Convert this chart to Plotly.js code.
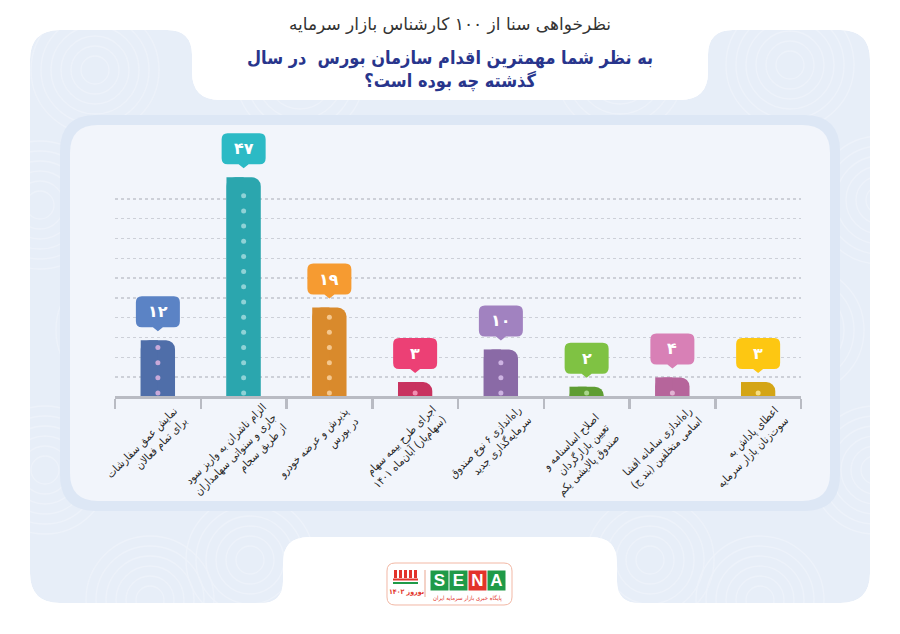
<!DOCTYPE html>
<html>
<head>
<meta charset="utf-8">
<script src="https://cdn.plot.ly/plotly-3.0.1.min.js"></script>
<style>
  html, body { margin: 0; padding: 0; background: #ffffff; }
  #chart { width: 900px; height: 634px; }
</style>
</head>
<body>
<div id="chart"></div>
<script>
// ---------------- data ----------------
const labelLines = [
  ["نمایش عمق سفارشات", "برای تمام فعالان"],
  ["الزام ناشران به واریز سود", "جاری و سنواتی سهامداران", "از طریق سجام"],
  ["پذیرش و عرضه خودرو", "در بورس"],
  ["اجرای طرح بیمه سهام", "(سهام‌یار) آبان‌ماه ۱۴۰۱"],
  ["راه‌اندازی ۶ نوع صندوق", "سرمایه‌گذاری جدید"],
  ["اصلاح اساسنامه و", "تعیین بازارگردان", "صندوق پالایشی یکم"],
  ["راه‌اندازی سامانه افشا", "اسامی متخلفین (بند ج)"],
  ["اعطای پاداش به", "سوت‌زنان بازار سرمایه"]
];
const values = [12, 47, 19, 3, 10, 2, 4, 3];
const barColors    = ["#4f6ea9", "#2ba6ae", "#d98a2c", "#c8325f", "#8a6aa6", "#5f9d33", "#b6659b", "#d4a516"];
const bubbleColors = ["#5b83c5", "#2cbac5", "#f69b31", "#ec4075", "#a182c0", "#7fc243", "#d880b6", "#fdc712"];
const dotColors    = ["#c9a9d9", "#8fd2d6", "#f4c78e", "#f28fb2", "#cdb3e2", "#a9d68c", "#e2b3d3", "#f6de82"];
const titleLine1 = "نظرخواهی سنا از ۱۰۰ کارشناس بازار سرمایه";
const titleLine2 = "به نظر شما مهمترین اقدام سازمان بورس  در سال";
const titleLine3 = "گذشته چه بوده است؟";

// ---------------- helpers ----------------
const RLM = "\u200F";
const categories = labelLines.map(ls => ls.join(" "));
const labelTexts = labelLines.map(ls => ls.map(l => RLM + l + RLM).join("<br>"));
const toFa = n => String(n).replace(/\d/g, d => "۰۱۲۳۴۵۶۷۸۹"[d]);

const W = 900, H = 634, ML = 115, MR = 99, MT = 126, MB = 238;
const PW = W - ML - MR, PH = H - MT - MB;
const px2x = px => ((px - ML) / PW).toFixed(5);
const py2y = py => ((H - MB - py) / PH).toFixed(5);

function roundPoly(pts) {
  let d = "";
  const n = pts.length;
  for (let i = 0; i < n; i++) {
    const p = pts[(i - 1 + n) % n], v = pts[i], q = pts[(i + 1) % n];
    const r = v[2];
    const l1 = Math.hypot(p[0] - v[0], p[1] - v[1]);
    const l2 = Math.hypot(q[0] - v[0], q[1] - v[1]);
    const ax = v[0] + (p[0] - v[0]) * r / l1, ay = v[1] + (p[1] - v[1]) * r / l1;
    const bx = v[0] + (q[0] - v[0]) * r / l2, by = v[1] + (q[1] - v[1]) * r / l2;
    d += (i === 0 ? "M" : " L") + px2x(ax) + "," + py2y(ay);
    d += " Q" + px2x(v[0]) + "," + py2y(v[1]) + " " + px2x(bx) + "," + py2y(by);
  }
  return d + " Z";
}
function roundRect(x0, y0, x1, y1, r) {
  return roundPoly([[x0, y0, r], [x1, y0, r], [x1, y1, r], [x0, y1, r]]);
}
function paperShape(path, fill, line) {
  return { type: "path", xref: "paper", yref: "paper", path: path, fillcolor: fill,
           line: line || { width: 0 }, layer: "below" };
}
function rectShape(x0, y0, x1, y1, fill) {
  return { type: "rect", xref: "paper", yref: "paper", x0: px2x(x0), x1: px2x(x1),
           y0: py2y(y1), y1: py2y(y0), fillcolor: fill, line: { width: 0 }, layer: "above" };
}
function paperText(px, py, text, font, extra) {
  return Object.assign({ xref: "paper", yref: "paper", x: px2x(px), y: py2y(py),
    xanchor: "center", yanchor: "middle", showarrow: false, text: text, font: font }, extra || {});
}

// ---------------- background ----------------
const shapes = [];
const panelPts = [
  [30, 30, 30], [192, 30, 25], [192, 100, 28], [708, 100, 28], [708, 30, 25],
  [870, 30, 30], [870, 603, 30], [617, 603, 22], [617, 537, 26], [283, 537, 26],
  [283, 603, 22], [30, 603, 30]
];
shapes.push(paperShape(roundPoly(panelPts), "#e7eef8"));
// faint decorative arc pattern inside the outer panel
const arcCentres = [[95, 70], [40, 205], [120, 330], [45, 470], [150, 600], [250, 560],
                    [790, 65], [880, 200], [800, 330], [875, 470], [760, 600], [650, 560],
                    [300, 75], [620, 70]];
arcCentres.forEach(c => {
  for (let r = 14; r <= 64; r += 10) {
    shapes.push({ type: "circle", xref: "paper", yref: "paper",
      x0: px2x(c[0] - r), x1: px2x(c[0] + r), y0: py2y(c[1] + r), y1: py2y(c[1] - r),
      fillcolor: "rgba(0,0,0,0)", line: { color: "#edf2fa", width: 1.3 }, layer: "below" });
  }
});
// white mask outside the outer panel
shapes.push(paperShape("M" + px2x(-5) + "," + py2y(-5) + " L" + px2x(905) + "," + py2y(-5) +
  " L" + px2x(905) + "," + py2y(640) + " L" + px2x(-5) + "," + py2y(640) + " Z " +
  roundPoly(panelPts.slice().reverse()), "#ffffff"));
shapes.push(paperShape(roundRect(60, 115, 840, 511, 36), "#dde7f5"));
shapes.push(paperShape(roundRect(70, 125, 830, 501, 28), "#f2f5fb"));

// ---------------- speech bubbles ----------------
const bubblePath = "M-16,13 L-5,13 L0,9 L5,13 L16,13 Q22,13 22,19 L22,38 Q22,44 16,44 " +
                   "L-16,44 Q-22,44 -22,38 L-22,19 Q-22,13 -16,13 Z";
values.forEach((v, i) => {
  shapes.push({ type: "path", xref: "x", yref: "y", xsizemode: "pixel", ysizemode: "pixel",
                xanchor: i, yanchor: v, path: bubblePath, fillcolor: bubbleColors[i],
                line: { width: 0 }, layer: "above" });
});

// ---------------- logo ----------------
shapes.push(Object.assign(paperShape(roundRect(387, 563, 512, 605, 8), "#ffffff",
  { color: "#f2b8a5", width: 1 }), { layer: "above" }));
shapes.push({ type: "line", xref: "paper", yref: "paper", x0: px2x(425), x1: px2x(425),
  y0: py2y(597), y1: py2y(570), line: { color: "#e9a58f", width: 1 }, layer: "above" });
for (let k = 0; k < 5; k++) shapes.push(rectShape(394 + 5 * k, 570, 397 + 5 * k, 578, "#e2332a"));
shapes.push(rectShape(393, 578.5, 418, 580.5, "#e2332a"));
shapes.push(rectShape(393, 582, 418, 584, "#1f9a48"));

const annotations = [];
values.forEach((v, i) => {
  annotations.push({ x: i, y: v, xref: "x", yref: "y", yshift: 28.5, showarrow: false,
    xanchor: "center", yanchor: "middle",
    text: "<b>" + toFa(v) + "</b>",
    font: { family: "DejaVu Sans", size: 16, color: "#ffffff" } });
});
// category labels, rotated, right-aligned (RTL)
labelTexts.forEach((t, i) => {
  const n = labelLines[i].length;
  annotations.push({ x: i, y: 0, xref: "x", yref: "y",
    xshift: n > 2 ? -8 : -11, yshift: n > 2 ? -59 : -51,
    xanchor: "center", yanchor: "middle", showarrow: false, textangle: -45, align: "right",
    text: t, font: { family: "DejaVu Sans Condensed, DejaVu Sans", size: 11, color: "#262626" } });
});
annotations.push(paperText(450, 70, "<b>" + titleLine2 + "</b><br><b>" + titleLine3 + "</b>",
  { family: "DejaVu Sans Condensed, DejaVu Sans", size: 18, color: "#28358c" }));

const senaLetters = ["S", "E", "N", "A"];
const senaColors = ["#1f9a48", "#1f9a48", "#e2332a", "#1f9a48"];
senaLetters.forEach((ch, k) => {
  annotations.push(paperText(439.5 + 19 * k, 580.5, "<b>" + ch + "</b>",
    { family: "Liberation Sans", size: 17, color: "#ffffff" },
    { bgcolor: senaColors[k], width: 17, height: 19, borderpad: 0 }));
});
annotations.push(paperText(467, 597.5, "پایگاه خبری بازار سرمایه ایران",
  { family: "DejaVu Sans Condensed, DejaVu Sans", size: 6, color: "#e2332a" }));
annotations.push(paperText(406, 592, "<b>نوروز ۱۴۰۲</b>",
  { family: "DejaVu Sans Condensed, DejaVu Sans", size: 7, color: "#e2332a" }));

// ---------------- dots on bars ----------------
const dotX = [], dotY = [], dotC = [];
values.forEach((v, i) => {
  for (let y = 0.64; y <= v - 0.8; y += 3.26) { dotX.push(categories[i]); dotY.push(y); dotC.push(dotColors[i]); }
});

const traces = [
  { type: "bar", x: categories, y: values, width: 0.4, offset: -0.2,
    marker: { color: barColors, cornerradius: 9, line: { width: 0 } }, hoverinfo: "skip" },
  { type: "bar", x: categories, y: values, width: 0.2, offset: -0.2,
    marker: { color: barColors, line: { width: 0 } }, hoverinfo: "skip" },
  { type: "scatter", mode: "markers", x: dotX, y: dotY,
    marker: { size: 5, color: dotC }, hoverinfo: "skip" }
];

const gridVals = [];
for (let k = 0; k < 10; k++) gridVals.push(4.08 + 4.25 * k);

const layout = {
  width: W, height: H,
  margin: { l: ML, r: MR, t: MT, b: MB, pad: 0 },
  paper_bgcolor: "#ffffff", plot_bgcolor: "rgba(0,0,0,0)",
  showlegend: false, barmode: "overlay",
  title: { text: titleLine1, x: 0.5, xref: "container", xanchor: "center",
           y: 1 - 24 / H, yref: "container", yanchor: "middle",
           font: { family: "DejaVu Sans", size: 17, color: "#333333" } },
  xaxis: { type: "category", range: [-0.5, 7.5], tickson: "boundaries", ticks: "outside",
           ticklen: 10, tickwidth: 2.5, tickcolor: "#b9bbc3", showline: true,
           linecolor: "#b9bbc3", linewidth: 2.5, showgrid: false, zeroline: false,
           showticklabels: false, automargin: false, fixedrange: true },
  yaxis: { range: [0, 58], tickmode: "array", tickvals: gridVals, showticklabels: false,
           showgrid: true, gridcolor: "#cdd0d8", gridwidth: 1.3, griddash: "dot",
           zeroline: false, showline: false, ticks: "", automargin: false, fixedrange: true },
  shapes: shapes,
  annotations: annotations
};

Plotly.newPlot("chart", traces, layout, { displayModeBar: false, staticPlot: true });
</script>
</body>
</html>
